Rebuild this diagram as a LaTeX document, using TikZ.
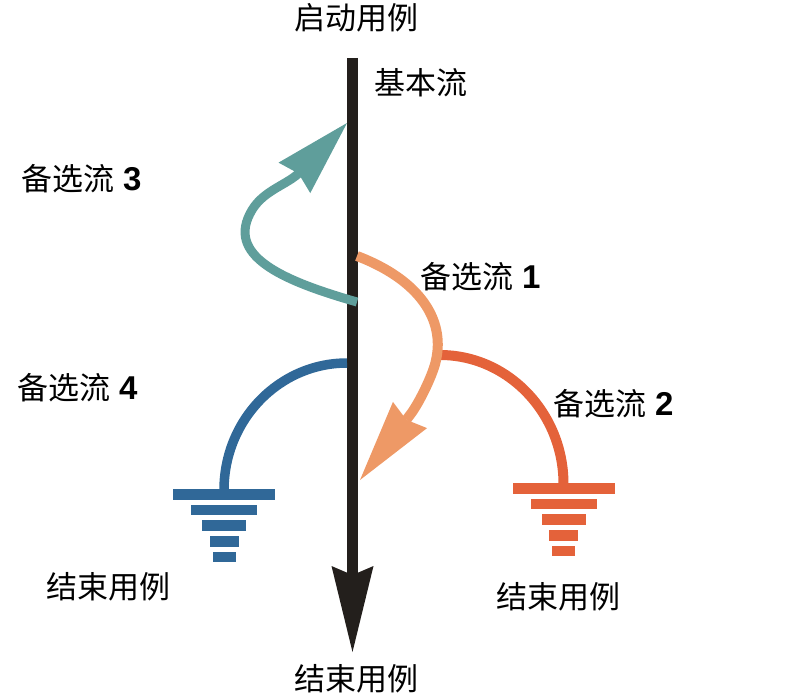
\documentclass[tikz,border=0pt]{standalone}
\usepackage{fontspec}
\setsansfont{Liberation Sans}
\newfontfamily\cjk{Noto Sans CJK SC}
\usetikzlibrary{arrows.meta}

\definecolor{flowblack}{HTML}{231F1C}
\definecolor{flowteal}{HTML}{5F9E9B}
\definecolor{flowpeach}{HTML}{EE9966}
\definecolor{flowred}{HTML}{E4623A}
\definecolor{flowblue}{HTML}{306898}

% number after an alternative-flow label
\newcommand\flowno[1]{\hspace{9pt}{\sffamily\bfseries\fontsize{33pt}{36pt}\selectfont #1}}

\tikzset{
  lbl/.style={anchor=base west, inner sep=0pt, text=black,
              font=\cjk\fontsize{31pt}{36pt}\selectfont},
  flowline/.style={line width=#1, line cap=butt},
  % ground-like terminator: five shrinking bars
  terminator/.pic={
    \foreach \hw/\dy in {51/0, 33/15.5, 22/31, 14.5/47, 11.5/62.5}
      \fill (-\hw,\dy) rectangle (\hw,\dy+10.5);
  }
}

\begin{document}
\begin{tikzpicture}[x=1pt,y=-1pt]
\useasboundingbox (0,0) rectangle (802,698);

% labels
\node[lbl] (startlbl) at (294,30)  {启动用例};
\node[lbl] (basiclbl) at (374,95)  {基本流};
\node[lbl] (alt3)     at (21,190)  {备选流\flowno{3}};
\node[lbl] (alt1)     at (420,288) {备选流\flowno{1}};
\node[lbl] (alt4)     at (17,399)  {备选流\flowno{4}};
\node[lbl] (alt2)     at (553,415) {备选流\flowno{2}};
\node[lbl] (endL)     at (46,598)  {结束用例};
\node[lbl] (endR)     at (496,608) {结束用例};
\node[lbl] (endB)     at (294,690) {结束用例};

% anchor points of the flows
\coordinate (mainTop) at (352.5,58);
\coordinate (mainEnd) at (352.5,652);
\coordinate (tealFrom) at (357,302);
\coordinate (tealTo)   at (347,123);
\coordinate (peachFrom) at (357,256);
\coordinate (peachTo)   at (360,480);
\coordinate (redFrom) at (440,355);
\coordinate (redTo)   at (563.5,484);
\coordinate (blueFrom) at (347,363);
\coordinate (blueTo)   at (224,490);

% basic flow
\draw[flowline=11pt, flowblack,
      -{Stealth[length=86pt,width=42pt,inset=9pt,line width=0pt]}]
  (mainTop) -- (mainEnd);

% alternative flow 3 (back to an earlier step)
\draw[flowline=9pt, flowteal,
      -{Stealth[length=76pt,width=44pt,inset=6pt,line width=0pt]}]
  (tealFrom) .. controls (280,280) and (225,255) .. (252,210)
             .. controls (264,190) and (288,184.5) .. (300,172) -- (tealTo);

% alternative flow 2 (ends the use case)
\draw[flowline=10pt, flowred]
  (redFrom) .. controls (508,355) and (563.5,413) .. (redTo);
\pic[fill=flowred] at (563.5,483) {terminator};

% alternative flow 1 (returns to the basic flow)
\draw[flowline=10pt, flowpeach,
      -{Stealth[length=82pt,width=43pt,inset=6pt,line width=0pt]}]
  (peachFrom) .. controls (420,280) and (445,320) .. (436,360)
              .. controls (434,372) and (420,402) .. (410,415) -- (peachTo);

% alternative flow 4 (ends the use case)
\draw[flowline=9.5pt, flowblue]
  (blueFrom) .. controls (279,363) and (224,420) .. (blueTo);
\pic[fill=flowblue] at (224,489) {terminator};

\end{tikzpicture}
\end{document}
